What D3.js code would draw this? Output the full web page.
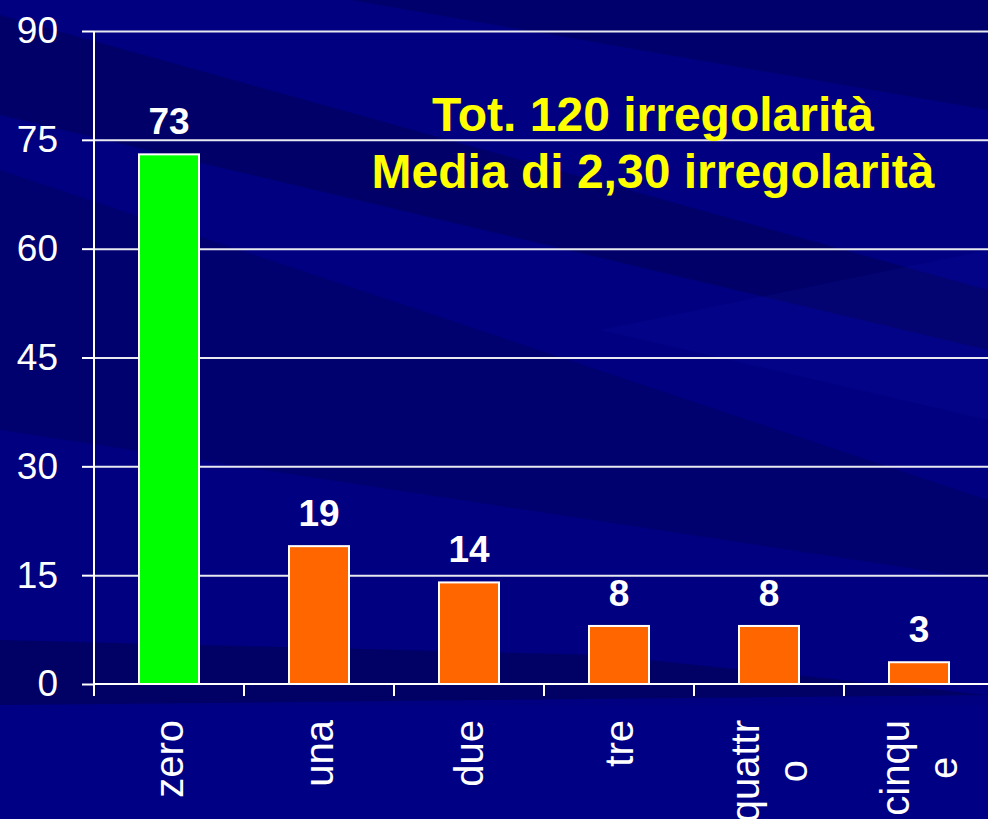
<!DOCTYPE html>
<html lang="it">
<head>
<meta charset="UTF-8">
<title>Irregolarità</title>
<script src="https://d3js.org/d3.v7.min.js"></script>
<style>
  body { margin: 0; padding: 0; background: #000080; overflow: hidden; }
  svg { display: block; font-family: "Liberation Sans", Arial, sans-serif; }
</style>
</head>
<body>
<div id="chart"></div>
<script>
// data
const categories = ["zero", "una", "due", "tre", "quattro", "cinque"];
const values = [73, 19, 14, 8, 8, 3];
const barColors = ["#00ff00", "#ff6600", "#ff6600", "#ff6600", "#ff6600", "#ff6600"];
const tickLabels = [["zero"], ["una"], ["due"], ["tre"], ["quattr", "o"], ["cinqu", "e"]];
const yTicks = [0, 15, 30, 45, 60, 75, 90];
const titleLines = ["Tot. 120 irregolarità", "Media di 2,30 irregolarità"];

const W = 988, H = 819;
const margin = {left: 94, top: 31, bottom: 135};

const svg = d3.select("#chart").append("svg")
    .attr("width", W).attr("height", H);

// background with soft diagonal streaks
svg.append("rect").attr("width", W).attr("height", H).attr("fill", "#000080");
const streaks = [
  {pts: [[0, 15], [988, 290], [988, 350], [0, 115]], c: "rgba(0,0,50,0.30)"},
  {pts: [[350, 0], [988, 0], [988, 110]], c: "rgba(0,0,50,0.25)"},
  {pts: [[0, 170], [988, 500], [988, 580], [0, 430]], c: "rgba(0,0,45,0.20)"},
  {pts: [[0, 640], [600, 655], [988, 695], [0, 705]], c: "rgba(0,0,40,0.30)"},
  {pts: [[600, 330], [988, 420], [988, 250]], c: "rgba(30,30,200,0.10)"},
  {pts: [[0, 705], [988, 705], [988, 819], [0, 819]], c: "rgba(0,0,170,0.10)"}
];
svg.append("g").selectAll("polygon").data(streaks).join("polygon")
    .attr("points", d => d.pts.map(p => p.join(",")).join(" "))
    .attr("fill", d => d.c);

const y = d3.scaleLinear().domain([0, 90]).range([H - margin.bottom, margin.top]);
const x = d3.scaleBand().domain(categories)
    .range([margin.left, margin.left + 900])
    .paddingInner(0.6).paddingOuter(0.3);
const xEdge = d3.scaleBand().domain(categories)
    .range([margin.left, margin.left + 900]).padding(0);

// y gridlines + ticks
const yAxis = svg.append("g")
    .attr("transform", `translate(${margin.left},0)`)
    .call(d3.axisLeft(y).tickValues(yTicks).tickSize(12).tickPadding(24));
yAxis.select(".domain").remove();
yAxis.selectAll(".tick line").attr("stroke", "#fff").attr("stroke-width", 2);
yAxis.selectAll(".tick text").attr("fill", "#fff").attr("font-size", 37);
yAxis.selectAll(".tick").filter(d => d > 0).append("line")
    .attr("x2", W).attr("stroke", "#e8e8f0").attr("stroke-width", 2);

// bars
svg.append("g").selectAll("rect").data(values).join("rect")
    .attr("x", (d, i) => x(categories[i]))
    .attr("y", d => y(d))
    .attr("width", x.bandwidth())
    .attr("height", d => y(0) - y(d))
    .attr("fill", (d, i) => barColors[i])
    .attr("stroke", "#fff").attr("stroke-width", 2);

// value labels
svg.append("g").selectAll("text").data(values).join("text")
    .attr("x", (d, i) => x(categories[i]) + x.bandwidth() / 2)
    .attr("y", d => y(d) - 20)
    .attr("text-anchor", "middle")
    .attr("fill", "#fff").attr("font-weight", "bold").attr("font-size", 37)
    .text(d => d);

// axes lines
svg.append("line")
    .attr("x1", margin.left).attr("x2", margin.left)
    .attr("y1", y(90)).attr("y2", y(0))
    .attr("stroke", "#fff").attr("stroke-width", 2);
svg.append("line")
    .attr("x1", margin.left).attr("x2", W)
    .attr("y1", y(0)).attr("y2", y(0))
    .attr("stroke", "#fff").attr("stroke-width", 2);
svg.append("g").selectAll("line").data(categories).join("line")
    .attr("x1", d => xEdge(d)).attr("x2", d => xEdge(d))
    .attr("y1", y(0)).attr("y2", y(0) + 12)
    .attr("stroke", "#fff").attr("stroke-width", 2);

// category labels, rotated (long ones wrap onto two lines)
const labTop = 720;
categories.forEach((c, i) => {
  const cx = xEdge(c) + xEdge.bandwidth() / 2 + 14;
  const lines = tickLabels[i];
  const off = lines.length > 1 ? 24 : 0;
  const t1 = svg.append("text")
      .attr("transform", `translate(${cx - off},${labTop}) rotate(-90)`)
      .attr("text-anchor", "end")
      .attr("fill", "#fff").attr("font-size", 40)
      .text(lines[0]);
  if (lines.length > 1) {
    const len = t1.node().getComputedTextLength();
    svg.append("text")
        .attr("transform", `translate(${cx + off},${labTop + len / 2}) rotate(-90)`)
        .attr("text-anchor", "middle")
        .attr("fill", "#fff").attr("font-size", 40)
        .text(lines[1]);
  }
});

// annotation
svg.append("g").selectAll("text").data(titleLines).join("text")
    .attr("x", 653)
    .attr("y", (d, i) => 131 + i * 57)
    .attr("text-anchor", "middle")
    .attr("fill", "#ffff00").attr("font-weight", "bold").attr("font-size", 48)
    .text(d => d);
</script>
</body>
</html>
